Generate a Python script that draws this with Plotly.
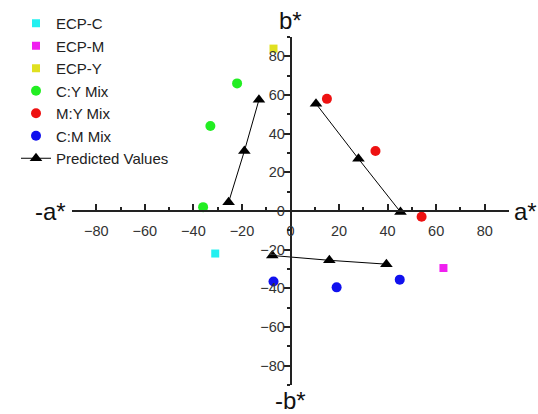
import plotly.graph_objects as go

ecp_c_a = [-31]; ecp_c_b = [-22]
ecp_m_a = [63]; ecp_m_b = [-29.5]
ecp_y_a = [-7]; ecp_y_b = [84]
cy_a = [-36, -33, -22]; cy_b = [2, 44, 66]
my_a = [15, 35, 54]; my_b = [58, 31, -3]
cm_a = [-7, 19, 45]; cm_b = [-36.5, -39.5, -35.5]
pred_a = [-25.5, -19, -13, None, 10.5, 28, 45.3, None, -7.5, 16, 39.5]
pred_b = [4.5, 31, 57.5, None, 55.5, 27, -0.5, None, -23, -25.5, -27.5]

tick_vals = [-80, -60, -40, -20, 0, 20, 40, 60, 80]

fig = go.Figure()

def add(name, a, b, color, symbol, size, group):
    fig.add_trace(go.Scatter(x=a, y=b, mode='markers', name=name, legendgroup=group,
                             marker=dict(color=color, symbol=symbol, size=size, line=dict(width=0))))

add('ECP-C', ecp_c_a, ecp_c_b, '#22f0f0', 'square', 8, 'g1')
add('ECP-M', ecp_m_a, ecp_m_b, '#f020f0', 'square', 8, 'g2')
add('ECP-Y', ecp_y_a, ecp_y_b, '#e0e020', 'square', 8, 'g3')
add('C:Y Mix', cy_a, cy_b, '#22ee22', 'circle', 10, 'g4')
add('M:Y Mix', my_a, my_b, '#ee1111', 'circle', 10, 'g5')
add('C:M Mix', cm_a, cm_b, '#1111ee', 'circle', 10, 'g6')
fig.add_trace(go.Scatter(x=pred_a, y=pred_b, mode='lines+markers', name='Predicted Values',
                         legendgroup='g7', connectgaps=False,
                         line=dict(color='black', width=1),
                         marker=dict(color='black', symbol='triangle-up', size=11)))

axfont = dict(family='Liberation Sans, Arial, sans-serif', size=14.5, color='#333333')

fig.update_layout(
    width=538, height=414,
    margin=dict(l=72, r=29, t=37, b=29, autoexpand=False),
    paper_bgcolor='white', plot_bgcolor='white',
    showlegend=True,
    legend=dict(x=16/538, y=1 - 7/414, xref='container', yref='container',
                xanchor='left', yanchor='top', bgcolor='rgba(0,0,0,0)',
                font=dict(family='Liberation Sans, Arial, sans-serif', size=15, color='#222222'),
                tracegroupgap=0),
    xaxis=dict(range=[-90, 90], anchor='free', position=0.5, showgrid=False, zeroline=False,
               showline=True, linecolor='#222222', linewidth=1.5,
               ticks='inside', ticklen=6, tickcolor='#222222', tickwidth=1.5,
               tickvals=tick_vals, tickfont=axfont, ticklabelstandoff=7,
               minor=dict(ticks='inside', ticklen=3, dtick=10, tick0=0, tickcolor='#222222', showgrid=False)),
    yaxis=dict(range=[-90, 90], anchor='free', position=0.5, showgrid=False, zeroline=False,
               showline=True, linecolor='#222222', linewidth=1.5,
               ticks='outside', ticklen=6, tickcolor='#222222', tickwidth=1.5,
               tickvals=tick_vals, tickfont=axfont, ticklabelstandoff=-4,
               minor=dict(ticks='outside', ticklen=3, dtick=10, tick0=0, tickcolor='#222222', showgrid=False)),
)

tfont = dict(family='Liberation Sans, Arial, sans-serif', size=24, color='#111111')
fig.add_annotation(x=-90, y=0, xref='x', yref='y', text='-a*', showarrow=False,
                   xanchor='right', xshift=-4, font=tfont)
fig.add_annotation(x=90, y=0, xref='x', yref='y', text='a*', showarrow=False,
                   xanchor='left', xshift=3, font=tfont)
fig.add_annotation(x=0, y=90, xref='x', yref='y', text='b*', showarrow=False,
                   yanchor='bottom', yshift=1, font=tfont)
fig.add_annotation(x=0, y=-90, xref='x', yref='y', text='-b*', showarrow=False,
                   yanchor='top', yshift=0, font=tfont)

fig.write_html('out.html')
